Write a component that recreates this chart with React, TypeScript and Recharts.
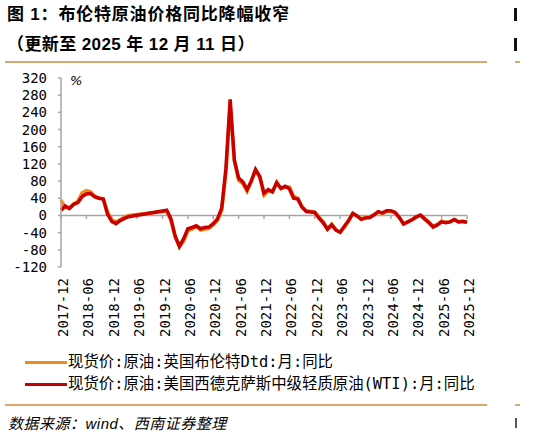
import React from 'react';
import { LineChart, Line, XAxis, YAxis, ReferenceLine } from 'recharts';

// ---- categories: monthly from 2017-12 to 2025-12 ----
const START_YEAR = 2017;
const START_MONTH = 12;
const MONTH_COUNT = 97;
const months: string[] = Array.from({ length: MONTH_COUNT }, (_, i) => {
  const t = START_YEAR * 12 + (START_MONTH - 1) + i;
  const y = Math.floor(t / 12);
  const m = (t % 12) + 1;
  return `${y}-${String(m).padStart(2, '0')}`;
});

const tickLabels = [
  '2017-12', '2018-06', '2018-12', '2019-06', '2019-12', '2020-06', '2020-12', '2021-06', '2021-12',
  '2022-06', '2022-12', '2023-06', '2023-12', '2024-06', '2024-12', '2025-06', '2025-12',
];

const yTicks = [-120, -80, -40, 0, 40, 80, 120, 160, 200, 240, 280, 320];

// ---- series (YoY %) ----
const brent: (number | null)[] = [
  36,
  18, 18, 27, 33, 53, 58, 55, 45, 40, 39, 8, -10,
  -15, -10, -4, 0, null, null, null, null, null, null, null, null,
  10, -12, -50, -73, -60, -35, -32, -26, -34, -32, -30, -22,
  -12, 12, 100, 255, 128, 82, 74, 56, 80, 106, 88, 47,
  57, 55, 78, 62, 66, 66, 45, 40, 20, 11, 10, 8,
  -4, -15, -32, -20, -33, -39, -28, -13, 5, -2, -8, -4,
  -4, 2, 8, 5, 9, 9, 6, -5, -20, -15, -10, -4,
  0, -9, -15, -25, -21, -13, -16, -15, -9, -15, -13, -16,
];

const wti: (number | null)[] = [
  12,
  22, 16, 26, 30, 44, 50, 51, 43, 40, 38, 3, -14,
  -19, -12, -7, -3, null, null, null, null, null, null, null, null,
  12, -8, -48, -72, -54, -31, -28, -24, -31, -28, -27, -19,
  -8, 17, 110, 270, 128, 87, 78, 60, 80, 107, 91, 52,
  60, 55, 76, 63, 68, 62, 40, 38, 19, 9, 8, 7,
  -6, -17, -32, -22, -34, -39, -25, -12, 5, -1, -9, -6,
  -5, 1, 9, 6, 11, 11, 7, -5, -20, -15, -10, -3,
  1, -8, -17, -27, -22, -15, -17, -15, -10, -15, -14, -16,
];

const seriesNames = {
  brent: '现货价:原油:英国布伦特Dtd:月:同比',
  wti: '现货价:原油:美国西德克萨斯中级轻质原油(WTI):月:同比',
};

const data = months.map((m, i) => ({ month: m, brent: brent[i], wti: wti[i] }));

const ORANGE = '#F28A1D';
const RED = '#C80000';
const AXIS = '#a6a6a6';
const RULE = '#D9A96E';
const MONO = "'DejaVu Sans Mono', 'Noto Sans CJK SC', monospace";
const TITLE_FONT = "'Liberation Sans', 'Noto Sans CJK SC', sans-serif";

const XTick = (props: any) => {
  const { x, y, payload } = props;
  const ax = x + 2;
  const ay = y + 11;
  return (
    <text
      x={ax}
      y={ay}
      transform={`rotate(-90 ${ax} ${ay})`}
      textAnchor="end"
      dominantBaseline="central"
      fontSize={14}
      fontFamily={MONO}
      fill="#000"
    >
      {payload.value}
    </text>
  );
};

export default function App() {
  return (
    <div
      style={{
        position: 'absolute',
        left: 0,
        top: 0,
        width: 539,
        height: 436,
        overflow: 'hidden',
        background: '#fff',
      }}
    >
      {/* title */}
      <div
        style={{
          position: 'absolute', left: 7, top: 5, lineHeight: '20px', fontSize: 17,
          fontWeight: 'bold', fontFamily: TITLE_FONT, color: '#000', whiteSpace: 'nowrap',
          letterSpacing: 0.8,
        }}
      >
        图 1：布伦特原油价格同比降幅收窄
      </div>
      <div
        style={{
          position: 'absolute', left: 7, top: 35, lineHeight: '20px', fontSize: 17,
          fontWeight: 'bold', fontFamily: TITLE_FONT, color: '#000', whiteSpace: 'nowrap',
          letterSpacing: 0.4,
        }}
      >
        （更新至 2025 年 12 月 11 日）
      </div>
      <div style={{ position: 'absolute', left: 5, top: 61, width: 482, height: 2, background: RULE }} />

      {/* neighbouring figure fragments at right edge (cropped glyph strokes) */}
      <div style={{ position: 'absolute', left: 514, top: 8, width: 3, height: 13, background: '#111' }} />
      <div style={{ position: 'absolute', left: 514, top: 38, width: 3, height: 13, background: '#111' }} />
      <div style={{ position: 'absolute', left: 515, top: 61, width: 5, height: 2, background: RULE }} />
      <div style={{ position: 'absolute', left: 515, top: 404, width: 5, height: 2, background: RULE }} />
      <div style={{ position: 'absolute', left: 515, top: 418, width: 2, height: 10, background: '#555' }} />

      {/* chart */}
      <div style={{ position: 'absolute', left: 0, top: 0 }}>
        <LineChart
          width={539}
          height={436}
          data={data}
          margin={{ top: 78, right: 72, bottom: 89, left: 0 }}
        >
          <XAxis
            dataKey="month"
            scale="point"
            padding={{ left: 0, right: 0 }}
            interval={5}
            axisLine={false}
            tickLine={false}
            tickSize={0}
            tickMargin={0}
            height={80}
            tick={<XTick />}
          />
          <YAxis
            domain={[-120, 320]}
            ticks={yTicks}
            interval={0}
            width={61}
            tickSize={3}
            tickMargin={11}
            axisLine={{ stroke: AXIS, strokeWidth: 1.5 }}
            tickLine={{ stroke: AXIS, strokeWidth: 1.5 }}
            tick={{ fontSize: 14, fontFamily: MONO, fill: '#000' }}
          />
          <ReferenceLine y={0} stroke={AXIS} strokeWidth={1.5} />
          {tickLabels.map((t) => (
            <ReferenceLine
              key={t}
              segment={[{ x: t, y: 0 }, { x: t, y: -8 }]}
              stroke={AXIS}
              strokeWidth={1.5}
            />
          ))}
          <Line
            type="linear"
            dataKey="brent"
            name={seriesNames.brent}
            stroke={ORANGE}
            strokeWidth={3.5}
            dot={false}
            connectNulls
            isAnimationActive={false}
          />
          <Line
            type="linear"
            dataKey="wti"
            name={seriesNames.wti}
            stroke={RED}
            strokeWidth={3.5}
            dot={false}
            connectNulls
            isAnimationActive={false}
          />
        </LineChart>
      </div>

      {/* unit */}
      <div
        style={{
          position: 'absolute', left: 70, top: 73, fontSize: 13, lineHeight: '16px',
          fontStyle: 'italic', fontFamily: "'DejaVu Sans', sans-serif", color: '#000',
        }}
      >
        %
      </div>

      {/* legend */}
      <div style={{ position: 'absolute', left: 25, top: 351 }}>
        {[
          { c: ORANGE, n: seriesNames.brent },
          { c: RED, n: seriesNames.wti },
        ].map((it) => (
          <div key={it.n} style={{ display: 'flex', alignItems: 'center', height: 22 }}>
            <div style={{ width: 42, height: 3, background: it.c, marginRight: 1 }} />
            <span style={{ fontSize: 15.4, fontFamily: MONO, color: '#000', whiteSpace: 'nowrap', lineHeight: '22px' }}>
              {it.n}
            </span>
          </div>
        ))}
      </div>

      <div style={{ position: 'absolute', left: 5, top: 404, width: 482, height: 2, background: RULE }} />

      {/* source */}
      <div
        style={{
          position: 'absolute', left: 8, top: 414, fontSize: 15, lineHeight: '20px',
          fontStyle: 'italic', fontFamily: "'Liberation Sans', 'Noto Sans CJK SC', sans-serif",
          color: '#000', whiteSpace: 'nowrap', letterSpacing: 0.5,
        }}
      >
        数据来源：wind、西南证券整理
      </div>
    </div>
  );
}
